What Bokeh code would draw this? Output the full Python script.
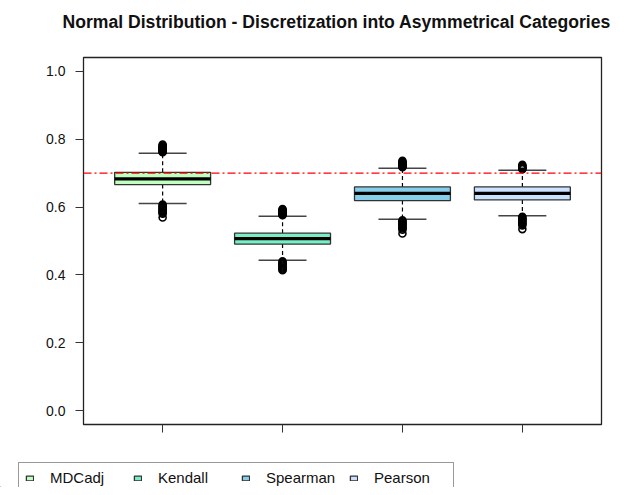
from bokeh.plotting import figure
from bokeh.models import (Range1d, FixedTicker, Span, Legend, LegendItem,
                          ColumnDataSource, CustomJSTickFormatter,
                          PrintfTickFormatter)
from bokeh.embed import file_html
from bokeh.resources import INLINE

# ---- data ----
categories = ["MDCadj", "Kendall", "Spearman", "Pearson"]
colors = ["#C1FFC1", "#76EEC6", "#87CEEB", "#CAE1FF"]
q1 = [0.666, 0.491, 0.619, 0.621]
median = [0.683, 0.507, 0.640, 0.640]
q3 = [0.702, 0.523, 0.659, 0.659]
whisker_low = [0.610, 0.443, 0.564, 0.574]
whisker_high = [0.758, 0.573, 0.714, 0.708]

outliers_mdcadj = [0.761, 0.763, 0.765, 0.767, 0.769, 0.771, 0.773, 0.775, 0.777,
                   0.779, 0.781, 0.784,
                   0.607, 0.604, 0.601, 0.598, 0.595, 0.592, 0.589, 0.586, 0.583,
                   0.580, 0.569]
outliers_kendall = [0.576, 0.578, 0.580, 0.582, 0.584, 0.586, 0.588, 0.590, 0.592,
                    0.594,
                    0.440, 0.437, 0.434, 0.431, 0.428, 0.425, 0.422, 0.419, 0.416,
                    0.414]
outliers_spearman = [0.717, 0.719, 0.721, 0.723, 0.725, 0.727, 0.729, 0.731, 0.733,
                     0.736,
                     0.561, 0.558, 0.555, 0.552, 0.549, 0.546, 0.543, 0.540, 0.537,
                     0.533, 0.522]
outliers_pearson = [0.711, 0.713, 0.715, 0.717, 0.719, 0.721, 0.724,
                    0.571, 0.568, 0.565, 0.562, 0.559, 0.556, 0.553, 0.550, 0.546,
                    0.535]
outliers = [outliers_mdcadj, outliers_kendall, outliers_spearman, outliers_pearson]

reference_value = 0.7
y_ticks = [0.0, 0.2, 0.4, 0.6, 0.8, 1.0]

title = "Normal Distribution - Discretization into Asymmetrical Categories"

# ---- figures ----
FONT = "Liberation Sans"
BOXW = 0.8
CAPW = 0.4


def blank(fig):
    fig.outline_line_color = None
    fig.grid.visible = False
    fig.background_fill_color = "white"
    fig.border_fill_color = "white"


# title strip
tfig = figure(width=618, height=40, output_backend="svg", toolbar_location=None,
              x_range=Range1d(0, 1), y_range=Range1d(0, 1),
              x_axis_type=None, y_axis_type=None,
              min_border_left=83, min_border_right=17, min_border_top=31,
              min_border_bottom=0)
blank(tfig)
tfig.title.text = title
tfig.title.text_font = FONT
tfig.title.text_font_size = "17.6px"
tfig.title.text_font_style = "bold"
tfig.title.text_color = "#111111"
tfig.title.align = "left"
tfig.title.offset = -21
tfig.title.standoff = 0

# main plot
p = figure(width=618, height=415, output_backend="svg", toolbar_location=None,
           x_range=Range1d(0.34, 4.66), y_range=Range1d(-0.04, 1.04),
           min_border_left=83, min_border_right=17, min_border_top=17,
           min_border_bottom=31)
p.grid.visible = False
p.background_fill_color = "white"
p.border_fill_color = "white"
p.outline_line_color = "#222222"
p.outline_line_width = 1.3

xs = [i + 1 for i in range(len(categories))]
src = ColumnDataSource(dict(
    x=xs, cat=categories, color=colors, q1=q1, q3=q3, med=median,
    lo=whisker_low, hi=whisker_high,
    x0=[x - BOXW / 2 for x in xs], x1=[x + BOXW / 2 for x in xs],
    c0=[x - CAPW / 2 for x in xs], c1=[x + CAPW / 2 for x in xs],
))

# whiskers (dashed)
p.segment(x0="x", y0="q3", x1="x", y1="hi", source=src, line_color="black",
          line_width=1.2, line_dash="4 3")
p.segment(x0="x", y0="q1", x1="x", y1="lo", source=src, line_color="black",
          line_width=1.2, line_dash="4 3")
# caps
p.segment(x0="c0", y0="hi", x1="c1", y1="hi", source=src, line_color="#444444",
          line_width=1.5)
p.segment(x0="c0", y0="lo", x1="c1", y1="lo", source=src, line_color="#444444",
          line_width=1.5)
# boxes
p.vbar(x="x", width=BOXW, top="q3", bottom="q1", source=src,
       fill_color="color", line_color="#333333", line_width=1.3)
# medians
p.segment(x0="x0", y0="med", x1="x1", y1="med", source=src, line_color="black",
          line_width=3.2)
# outliers
ox, oy = [], []
for x, vals in zip(xs, outliers):
    ox += [x] * len(vals)
    oy += vals
p.scatter(ox, oy, marker="circle", size=7, fill_color=None, line_color="black",
          line_width=1.6)

# reference line
p.add_layout(Span(location=reference_value, dimension="width", line_color="red",
                  line_width=1.2, line_dash="8 3 2 3"))

# axes
p.yaxis.ticker = FixedTicker(ticks=y_ticks)
p.yaxis.formatter = PrintfTickFormatter(format="%.1f")
p.yaxis.major_tick_out = 8
p.yaxis.major_tick_in = 0
p.yaxis.minor_tick_line_color = None
p.yaxis.axis_line_color = None
p.yaxis.major_tick_line_color = "#333333"
p.yaxis.major_label_standoff = 10
p.yaxis.major_label_text_font = FONT
p.yaxis.major_label_text_font_size = "14px"
p.yaxis.major_label_text_color = "#111111"

p.xaxis.ticker = FixedTicker(ticks=xs)
p.xaxis.formatter = CustomJSTickFormatter(code="return ''")
p.xaxis.major_tick_out = 8
p.xaxis.major_tick_in = 0
p.xaxis.minor_tick_line_color = None
p.xaxis.axis_line_color = None
p.xaxis.major_tick_line_color = "#333333"

# legend strip (separate root figure below the plot)
leg = figure(width=618, height=32, output_backend="svg", toolbar_location=None,
             x_range=Range1d(10, 11), y_range=Range1d(10, 11),
             x_axis_type=None, y_axis_type=None,
             min_border_left=0, min_border_right=0, min_border_top=0,
             min_border_bottom=0)
blank(leg)
swatches = leg.vbar(x="x", width=BOXW, top="q3", bottom="q1", source=src,
                    fill_color="color", line_color="#333333", line_width=1.3)
items = [LegendItem(label=c, renderers=[swatches], index=i)
         for i, c in enumerate(categories)]
legend = Legend(items=items, orientation="horizontal", location=(18, -6),
                glyph_width=9, glyph_height=6, label_standoff=16,
                label_width=73, spacing=10, padding=6, margin=0,
                label_height=14,
                label_text_font=FONT, label_text_font_size="15px",
                label_text_color="#111111",
                border_line_color="#333333", border_line_width=1.3,
                background_fill_alpha=1.0)
leg.add_layout(legend, "center")

open("out.html", "w").write(file_html([tfig, p, leg], INLINE))
